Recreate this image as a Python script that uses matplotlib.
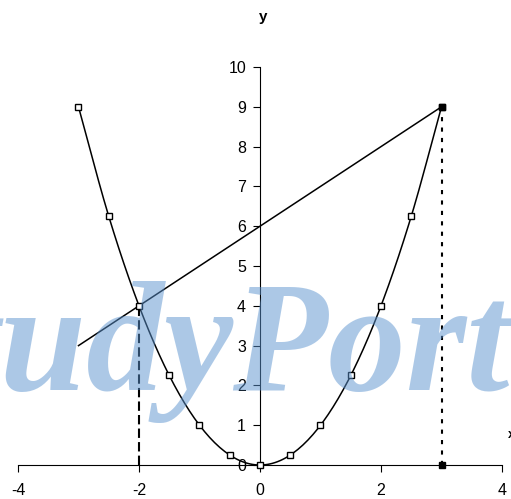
import numpy as np
import matplotlib
matplotlib.use("Agg")
import matplotlib.pyplot as plt

plt.rcParams["font.family"] = ["Liberation Sans", "DejaVu Sans"]
plt.rcParams["axes.unicode_minus"] = False

# data
x_pts = [-3, -2.5, -2, -1.5, -1, -0.5, 0, 0.5, 1, 1.5, 2, 2.5, 3]
y_pts = [9, 6.25, 4, 2.25, 1, 0.25, 0, 0.25, 1, 2.25, 4, 6.25, 9]
line_x = [-3, 3]
line_y = [3, 9]
dash_x = [-2, -2]
dash_y = [0, 4]
dot_x = [3, 3]
dot_y = [0, 9]
mark_x = [3, 3]
mark_y = [9, 0]
x_ticks = [-4, -2, 0, 2, 4]
y_ticks = list(range(0, 11))


def smooth(xs, ys, n=12):
    # Catmull-Rom smoothing, like a spreadsheet "smoothed line"
    xs = np.asarray(xs, float)
    ys = np.asarray(ys, float)
    px = np.concatenate([[2 * xs[0] - xs[1]], xs, [2 * xs[-1] - xs[-2]]])
    py = np.concatenate([[2 * ys[0] - ys[1]], ys, [2 * ys[-1] - ys[-2]]])
    ox, oy = [], []
    t = np.linspace(0, 1, n, endpoint=False)
    for i in range(1, len(px) - 2):
        for p, o in ((px, ox), (py, oy)):
            p0, p1, p2, p3 = p[i - 1], p[i], p[i + 1], p[i + 2]
            o.extend(0.5 * (2 * p1 + (-p0 + p2) * t
                            + (2 * p0 - 5 * p1 + 4 * p2 - p3) * t ** 2
                            + (-p0 + 3 * p1 - 3 * p2 + p3) * t ** 3))
    ox.append(xs[-1])
    oy.append(ys[-1])
    return ox, oy


fig = plt.figure(figsize=(5.11, 4.99), dpi=100, facecolor="white")
ax = fig.add_axes([0.0352, 0.0681, 0.9472, 0.7976])
ax.set_xlim(-4, 4)
ax.set_ylim(0, 10)

sx, sy = smooth(x_pts, y_pts)
ax.plot(sx, sy, color="black", lw=1.1, zorder=3)
ax.plot(x_pts, y_pts, ls="none", marker="s", ms=4.5, mfc="white",
        mec="black", mew=1.0, zorder=4, clip_on=False)
ax.plot(line_x, line_y, color="black", lw=1.1, zorder=3)
ax.plot(dash_x, dash_y, color="black", lw=1.5, ls=(0, (4.5, 2)), zorder=3)
ax.plot(dot_x, dot_y, color="black", lw=1.5, ls=(0, (2, 3)), zorder=3)
ax.plot(mark_x, mark_y, ls="none", marker="s", ms=5, color="black",
        zorder=5, clip_on=False)

for s in ("top", "right"):
    ax.spines[s].set_visible(False)
ax.spines["left"].set_position(("data", 0))
ax.spines["bottom"].set_position(("data", 0))
ax.spines["left"].set_linewidth(0.8)
ax.spines["bottom"].set_linewidth(0.8)
ax.set_xticks(x_ticks)
ax.set_yticks(y_ticks)
ax.tick_params(axis="both", direction="out", length=5, width=0.8,
               labelsize=11.5, colors="black")
ax.tick_params(axis="x", pad=8)
ax.tick_params(axis="y", pad=5)

fig.text(263 / 511, 1 - 17 / 499, "y", ha="center", va="center",
         fontsize=11, fontweight="bold")
fig.text(508 / 511, 1 - 435 / 499, "x", ha="left", va="center",
         fontsize=9, fontweight="bold")

# watermark
fig.text(-130 / 511, 1 - 390 / 499, "StudyPort", fontsize=112,
         color="#5b93cf", alpha=0.5, family="Liberation Serif",
         style="italic", fontweight="bold",
         ha="left", va="baseline", zorder=10)

fig.savefig("out.png", dpi=100, facecolor="white")
